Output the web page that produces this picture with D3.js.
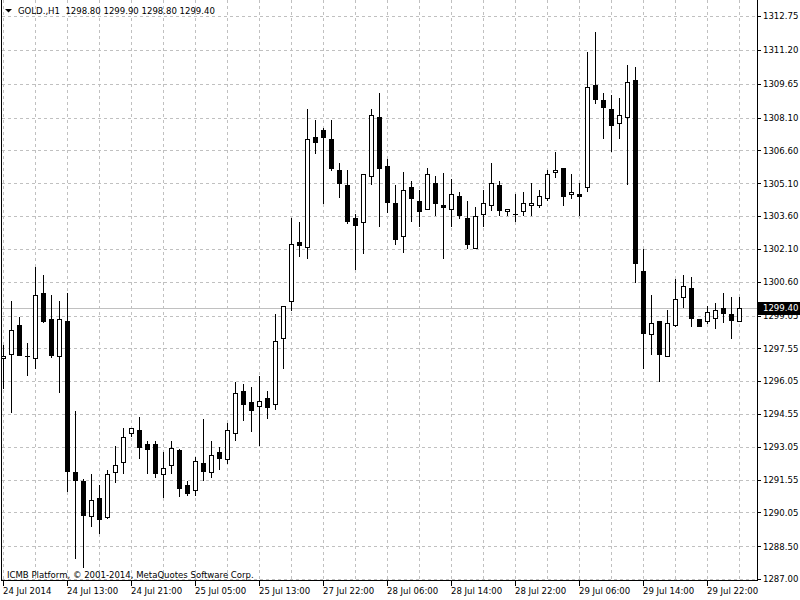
<!DOCTYPE html>
<html><head><meta charset="utf-8">
<script src="https://cdn.jsdelivr.net/npm/d3@7"></script>
<style>
html,body{margin:0;padding:0;background:#fff;overflow:hidden}
svg{display:block}
text{font-family:'DejaVu Sans Condensed','Liberation Sans',sans-serif;font-size:9.5px;fill:#000;white-space:pre}
</style></head><body>
<svg id="chart" width="800" height="600"></svg>
<script>
const headerText = "GOLD.,H1  1298.80 1299.90 1298.80 1299.40";
const copyrightText = "ICMB Platform, \u00A9 2001-2014, MetaQuotes Software Corp.";

const opens = [1297.09,1297.28,1298.60,1297.19,1297.09,1300.07,1298.88,1297.19,1298.79,1291.88,
1291.48,1289.87,1290.69,1289.85,1291.88,1292.36,1293.66,1293.80,1293.17,1293.17,
1291.79,1292.20,1292.89,1291.29,1291.06,1292.29,1291.88,1292.81,1292.47,1293.66,
1295.58,1295.08,1294.90,1295.26,1294.99,1298.01,1299.70,1302.41,1302.17,1307.22,
1307.54,1307.11,1305.69,1305.02,1303.50,1303.31,1305.43,1308.12,1305.89,1304.18,
1302.67,1304.91,1304.27,1303.91,1305.10,1304.09,1303.91,1304.50,1303.50,1302.15,
1303.68,1304.09,1305.01,1303.82,1303.68,1303.83,1304.09,1304.09,1304.41,1305.60,
1305.78,1304.59,1304.59,1304.91,1309.58,1308.91,1308.50,1307.87,1308.12,1309.82,
1301.07,1298.19,1298.80,1297.19,1298.60,1299.88,1300.31,1298.89,1298.79,1298.95,
1299.39,1299.11,1298.80];
const highs = [1297.70,1299.71,1298.97,1297.78,1301.26,1300.90,1299.99,1299.71,1300.07,1294.67,
1291.56,1291.79,1291.29,1291.99,1293.08,1293.89,1293.89,1294.42,1293.31,1293.31,
1292.81,1293.31,1292.95,1291.48,1292.57,1294.32,1293.31,1293.05,1294.12,1296.01,
1295.92,1295.78,1296.28,1295.60,1299.12,1299.48,1303.51,1303.31,1308.48,1307.99,
1307.64,1307.99,1306.01,1305.69,1303.68,1305.52,1308.50,1309.21,1306.21,1305.02,
1305.60,1305.19,1304.80,1305.78,1305.43,1305.57,1305.28,1304.69,1304.27,1304.00,
1304.79,1306.01,1305.19,1303.91,1304.61,1304.69,1305.10,1304.79,1305.71,1306.54,
1305.80,1305.51,1305.10,1311.10,1312.02,1309.21,1309.12,1309.01,1310.51,1310.40,
1302.08,1299.99,1298.82,1299.30,1300.73,1300.90,1300.81,1298.89,1299.49,1299.61,
1300.08,1299.90,1299.90];
const lows = [1295.75,1294.65,1297.24,1296.34,1296.64,1298.77,1297.17,1295.57,1291.04,1287.97,
1287.56,1289.44,1289.09,1289.78,1291.45,1291.86,1293.55,1292.55,1291.86,1291.67,
1290.76,1291.86,1290.80,1290.84,1290.84,1291.53,1291.68,1292.04,1292.29,1293.36,
1294.27,1293.78,1293.13,1294.36,1294.76,1296.66,1299.30,1301.79,1301.69,1306.50,
1304.18,1305.69,1304.48,1303.30,1301.19,1301.90,1305.07,1303.16,1303.80,1302.31,
1301.97,1303.39,1303.16,1303.90,1303.67,1301.69,1303.16,1303.50,1302.15,1302.14,
1303.16,1303.88,1303.66,1303.66,1303.39,1303.66,1303.66,1304.00,1304.33,1305.40,
1304.09,1304.41,1303.66,1304.76,1308.78,1307.18,1306.59,1307.18,1305.08,1300.57,
1296.67,1297.27,1296.06,1297.18,1298.59,1299.44,1298.57,1298.58,1298.69,1298.47,
1298.77,1298.01,1298.80];
const closes = [1297.19,1298.37,1297.26,1297.19,1299.98,1298.79,1297.26,1298.88,1291.95,1291.54,
1289.94,1290.61,1289.76,1291.80,1292.21,1293.48,1293.89,1293.05,1292.96,1291.86,
1292.06,1292.98,1291.18,1290.95,1292.40,1291.95,1292.66,1292.55,1293.80,1295.49,
1294.99,1294.75,1295.15,1294.88,1297.89,1299.47,1302.31,1302.29,1307.11,1307.00,
1307.20,1305.78,1305.10,1303.39,1303.18,1305.51,1308.21,1305.78,1304.26,1302.56,
1304.78,1304.41,1303.82,1305.51,1304.18,1304.00,1304.59,1303.66,1302.31,1303.59,
1304.18,1305.10,1303.88,1303.91,1303.68,1304.18,1304.18,1304.50,1305.51,1305.69,
1304.50,1304.69,1304.50,1309.50,1308.97,1308.60,1307.78,1308.21,1309.72,1301.47,
1298.27,1298.69,1297.27,1298.69,1299.81,1300.40,1298.95,1298.58,1299.20,1299.30,
1299.18,1298.86,1299.40];

const timeLabels = ["24 Jul 2014","24 Jul 13:00","24 Jul 21:00","25 Jul 05:00","25 Jul 13:00","27 Jul 22:00",
"28 Jul 06:00","28 Jul 14:00","28 Jul 22:00","29 Jul 06:00","29 Jul 14:00","29 Jul 22:00"];
const timeLabelBars = [0,8,16,24,32,40,48,56,64,72,80,88];
const priceTickLabels = ["1312.75","1311.20","1309.65","1308.10","1306.60","1305.10","1303.60","1302.10","1300.60",
"1299.05","1297.55","1296.05","1294.55","1293.05","1291.55","1290.05","1288.50","1287.00"];
const lastPrice = 1299.40;

const W = 800, H = 600;
const plotRight = 757, plotBottom = 580;
const svg = d3.select("#chart");
const x = d3.scaleLinear().domain([0, opens.length - 1]).range([3.5, 739.5]);
const y = d3.scaleLinear().domain([1287.00, 1312.75]).range([579, 16]);
const py = v => Math.round(y(v)) + 0.5;
const gridColor = "#c0c0c0";

const bars = opens.map((o, i) => ({i, o, h: highs[i], l: lows[i], c: closes[i]}));

// grid
const grid = svg.append("g").attr("shape-rendering", "crispEdges");
grid.selectAll("line.h").data(priceTickLabels).join("line")
  .attr("x1", 2).attr("x2", plotRight)
  .attr("y1", d => py(+d)).attr("y2", d => py(+d))
  .attr("stroke", gridColor).attr("stroke-dasharray", "3,3");
grid.selectAll("line.v").data(d3.range(0, opens.length, 4)).join("line")
  .attr("x1", d => x(d)).attr("x2", d => x(d))
  .attr("y1", 0).attr("y2", plotBottom)
  .attr("stroke", gridColor).attr("stroke-dasharray", "3,3");

// last price line
svg.append("line").attr("shape-rendering", "crispEdges")
  .attr("x1", 2).attr("x2", plotRight).attr("y1", py(lastPrice)).attr("y2", py(lastPrice))
  .attr("stroke", gridColor);

// candles
const cg = svg.append("g").attr("shape-rendering", "crispEdges");
const candle = cg.selectAll("g").data(bars).join("g");
candle.append("line")
  .attr("x1", d => x(d.i)).attr("x2", d => x(d.i))
  .attr("y1", d => py(d.h) - 0.5).attr("y2", d => py(d.l) + 0.5)
  .attr("stroke", "#000");
candle.filter(d => Math.round(y(d.o)) !== Math.round(y(d.c))).append("rect")
  .attr("x", d => x(d.i) - 2).attr("width", 4)
  .attr("y", d => py(Math.max(d.o, d.c)))
  .attr("height", d => py(Math.min(d.o, d.c)) - py(Math.max(d.o, d.c)))
  .attr("fill", d => d.c > d.o ? "#fff" : "#000")
  .attr("stroke", "#000");
candle.filter(d => Math.round(y(d.o)) === Math.round(y(d.c))).append("line")
  .attr("x1", d => x(d.i) - 2.5).attr("x2", d => x(d.i) + 2.5)
  .attr("y1", d => py(d.c)).attr("y2", d => py(d.c))
  .attr("stroke", "#000");

// frame
svg.append("path").attr("shape-rendering", "crispEdges")
  .attr("d", `M1.5,0 V${plotBottom + 0.5} H${plotRight + 0.5} V0`)
  .attr("fill", "none").attr("stroke", "#000");

// right axis
const ra = svg.append("g");
ra.selectAll("line").data(priceTickLabels).join("line").attr("shape-rendering", "crispEdges")
  .attr("x1", plotRight + 1).attr("x2", plotRight + 4)
  .attr("y1", d => py(+d)).attr("y2", d => py(+d)).attr("stroke", "#000");
ra.selectAll("text").data(priceTickLabels).join("text")
  .attr("x", plotRight + 6).attr("y", d => y(+d)).attr("dy", "0.35em").text(d => d);

// last price box
svg.append("rect").attr("x", plotRight + 1).attr("y", py(lastPrice) - 6.5)
  .attr("width", W - plotRight - 1).attr("height", 13).attr("fill", "#000");
svg.append("text").attr("x", plotRight + 6).attr("y", y(lastPrice)).attr("dy", "0.35em")
  .style("fill", "#fff").text(lastPrice.toFixed(2));

// bottom axis
const ba = svg.append("g");
ba.selectAll("line").data(timeLabelBars).join("line").attr("shape-rendering", "crispEdges")
  .attr("x1", d => x(d)).attr("x2", d => x(d))
  .attr("y1", plotBottom + 1).attr("y2", plotBottom + 6).attr("stroke", "#000");
ba.selectAll("text").data(timeLabelBars).join("text")
  .attr("x", d => x(d) - 0.5).attr("y", 594).text((d, k) => timeLabels[k]);

// header
svg.append("path").attr("d", "M5,9 L12,9 L8.5,12.5 Z").attr("fill", "#000");
svg.append("text").attr("x", 18).attr("y", 14).text(headerText);

// copyright
svg.append("text").attr("x", 7).attr("y", 578).text(copyrightText);
</script>
</body></html>
